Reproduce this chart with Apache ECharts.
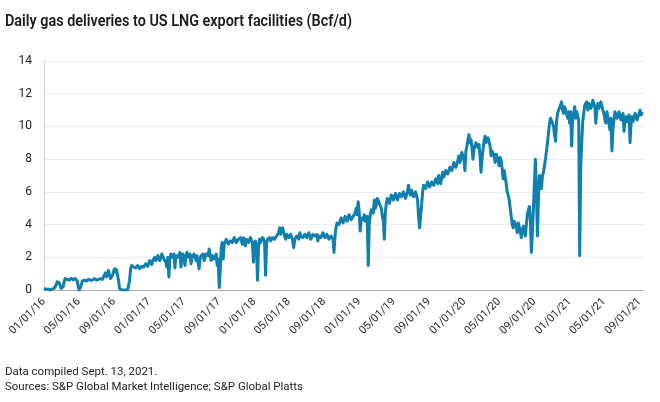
<!DOCTYPE html>
<html>
<head>
<meta charset="utf-8">
<script src="https://cdn.jsdelivr.net/npm/echarts@6/dist/echarts.min.js"></script>
<style>
html,body{margin:0;padding:0;background:#fff;}
#chart{width:660px;height:402px;}
</style>
</head>
<body>
<div id="chart"></div>
<script>
// Readings every 3.5 days (Bcf/d), first reading 2016-01-01
const startDate = '2016-01-01';
const stepDays = 3.5;
const values2016 = [0.1,0.05, 0.05,0.05, 0.05,0.0, 0.0,0.05, 0.05,0.1, 0.1,0.2, 0.3,0.5, 0.55,0.45, 0.4,0.1, 0.0,0.2, 0.5,0.7, 0.75,0.65, 0.7,0.6, 0.65,0.72, 0.7,0.62, 0.6,0.7, 0.65,0.55, 0.2,0.0, 0.0,0.3, 0.55,0.62, 0.6,0.5, 0.55,0.62, 0.65,0.55, 0.6,0.68, 0.6,0.5, 0.7,0.62, 0.6,0.68, 0.65,0.6, 0.7,0.62, 0.65,0.8, 0.9,1.05, 0.8,1.0, 1.2,0.9, 0.7,0.6, 0.9,1.1, 1.3,1.1, 1.25,1.3, 0.6,0.1, 0.0,0.0, 0.0,0.0, 0.0,0.0, 0.0,0.0, 0.1,0.6, 1.3,1.5, 1.5,1.4, 1.45,1.35, 1.4,1.5, 1.45,1.3, 1.3,1.45, 1.55,1.4, 1.5,1.6, 1.6,1.45, 1.65,1.8];
const values2017 = [1.7,1.55, 1.8,1.7, 2.0,1.8, 1.9,2.1, 2.2,1.8, 1.9,2.2, 2.1,1.9, 2.0,1.7, 1.4,2.0, 0.8,1.9, 2.2,2.0, 2.1,2.2, 1.35,2.1, 2.2,2.0, 2.1,2.3, 1.4,2.0, 2.2,1.9, 1.5,2.1, 2.3,2.0, 2.1,2.2, 1.6,2.0, 2.1,2.2, 2.0,1.8, 2.1,2.2, 1.3,1.9, 2.1,2.0, 2.2,1.8, 2.0,2.2, 2.3,2.1, 2.5,2.2, 1.8,2.1, 2.1,1.9, 1.9,2.2, 1.5,1.9, 0.15,1.2, 2.6,2.9, 1.9,2.8, 2.9,3.1, 3.0,2.8, 2.7,3.0, 3.1,2.9, 3.0,3.2, 3.2,2.9, 2.8,3.1, 3.1,3.2, 3.0,2.8, 3.2,3.0, 2.7,3.1, 3.1,2.9, 3.0,3.2, 3.2,2.9, 1.7,2.8];
const values2018 = [3.0,2.7, 0.6,2.5, 3.1,2.9, 3.0,3.2, 3.2,3.0, 0.9,2.8, 3.1,3.2, 3.2,3.0, 3.0,3.2, 3.3,3.1, 3.1,3.3, 3.2,3.5, 3.8,3.4, 3.3,3.8, 3.7,3.3, 3.1,3.4, 3.5,3.2, 3.3,3.4, 3.2,3.0, 2.6,3.1, 3.0,3.3, 3.3,3.1, 3.5,3.3, 3.4,3.2, 3.2,3.4, 3.5,3.2, 3.3,3.5, 3.4,3.1, 3.2,3.4, 3.5,3.3, 3.3,3.4, 3.0,3.3, 3.4,3.2, 3.3,3.5, 3.5,3.2, 3.2,3.4, 3.3,3.1, 3.2,3.3, 3.3,3.1, 2.3,3.3, 3.8,4.1, 4.2,4.0, 4.0,4.4, 4.4,4.1, 4.2,4.5, 4.5,4.2, 4.3,4.6, 4.6,4.3, 4.2,4.5, 4.5,4.7, 5.0,4.6, 5.4,4.8];
const values2019 = [3.6,4.4, 4.5,4.3, 4.6,4.2, 4.3,4.5, 1.5,4.0, 4.6,4.9, 5.0,4.7, 5.5,5.0, 5.2,5.6, 5.7,5.3, 5.3,5.0, 4.5,4.2, 3.1,4.8, 5.3,5.6, 5.6,5.3, 5.4,5.8, 5.8,5.5, 5.5,5.9, 5.8,5.5, 5.6,5.9, 6.0,5.7, 5.7,6.0, 5.9,5.6, 5.6,6.0, 6.4,6.0, 5.8,6.1, 6.0,5.7, 5.7,6.0, 6.0,5.5, 4.5,3.8, 3.7,5.2, 6.0,6.4, 6.5,6.2, 6.3,6.6, 6.6,6.3, 6.2,6.6, 6.7,6.4, 6.4,6.8, 6.8,6.5, 7.0,6.7, 6.5,6.9, 7.2,6.9, 7.0,7.3, 7.4,7.1, 7.2,7.5, 7.6,7.3, 7.4,7.8, 7.8,7.5, 7.5,7.9, 8.2,7.8, 8.0,8.4, 8.4,8.0];
const values2020 = [7.3,8.5, 8.8,9.2, 9.5,9.0, 9.2,8.7, 8.0,8.6, 8.8,9.0, 9.1,8.7, 8.9,8.2, 7.2,8.0, 8.6,9.1, 9.4,9.0, 9.0,9.3, 9.3,8.8, 8.2,8.5, 8.6,8.2, 7.8,8.3, 8.2,7.9, 7.6,8.1, 7.9,7.4, 6.8,7.3, 7.2,6.5, 6.0,5.8, 5.5,5.0, 4.5,4.0, 3.8,4.2, 4.2,3.9, 3.5,4.1, 4.0,3.6, 3.2,3.7, 3.9,3.5, 3.3,4.0, 4.6,4.9, 5.1,4.3, 2.3,3.5, 5.0,6.5, 8.0,6.0, 3.3,5.5, 7.0,6.5, 6.2,7.0, 7.2,7.6, 8.0,8.5, 9.0,9.6, 10.2,10.5, 10.6,10.2, 10.0,9.5, 9.1,10.3, 10.8,11.0, 11.0,11.3, 11.5,11.0, 10.8,11.2, 11.2,10.8, 10.5,10.9];
const values2021 = [10.2,10.9, 8.8,10.5, 10.8,11.2, 10.5,10.9, 11.0,10.4, 2.1,7.5, 9.0,10.3, 10.8,11.3, 11.2,11.5, 11.0,11.4, 11.5,11.1, 11.3,11.6, 11.6,11.2, 10.2,11.0, 11.4,11.1, 11.0,11.5, 11.5,11.0, 10.8,10.4, 10.2,10.9, 10.8,10.2, 9.8,10.5, 8.5,9.8, 10.4,10.9, 10.8,10.5, 10.5,10.9, 10.9,10.4, 10.3,10.8, 9.7,10.4, 10.6,10.3, 10.2,10.7, 9.0,10.2, 10.6,10.3, 10.4,10.8, 10.8,10.4, 10.5,10.8, 11.0,10.7, 10.9];
const tickDates = ['2016-01-01','2016-05-01','2016-09-01','2017-01-01','2017-05-01','2017-09-01','2018-01-01','2018-05-01','2018-09-01','2019-01-01','2019-05-01','2019-09-01','2020-01-01','2020-05-01','2020-09-01','2021-01-01','2021-05-01','2021-09-01'];
const axisEnd = '2021-09-13';
const yTicks = [0,2,4,6,8,10,12,14];
const titleText = 'Daily gas deliveries to US LNG export facilities (Bcf/d)';
const noteLines = ['Data compiled Sept. 13, 2021.', 'Sources: S&P Global Market Intelligence; S&P Global Platts'];

const toTs = s => { const p = s.split('-'); return Date.UTC(+p[0], +p[1]-1, +p[2]); };
const allValues = [].concat(values2016, values2017, values2018, values2019, values2020, values2021);
const t0 = toTs(startDate);
const seriesData = allValues.map((v,i)=>[t0 + i*stepDays*86400000, v]);
const tickTs = tickDates.map(toTs);
const fmt = ts => { const d = new Date(ts); const mm = String(d.getUTCMonth()+1).padStart(2,'0'); const dd = String(d.getUTCDate()).padStart(2,'0'); const yy = String(d.getUTCFullYear()).slice(2); return mm+'/'+dd+'/'+yy; };

// fit text widths to the reference layout
const mctx = document.createElement('canvas').getContext('2d');
function fitScale(text, font, target){ mctx.font = font; const w = mctx.measureText(text).width; return w > 0 ? target / w : 1; }
const titleFont = '600 17px Roboto';
const titleScale = fitScale(titleText, titleFont, 347);
const noteFont = '11px Roboto';
const noteScale = fitScale(noteLines[1], noteFont, 298);

const chart = echarts.init(document.getElementById('chart'), null, {renderer:'canvas'});
chart.setOption({
  animation:false,
  backgroundColor:'#ffffff',
  graphic:[
    {type:'text', x:5, y:22, scaleX:titleScale, style:{text:titleText, font:titleFont, fill:'#1a1a1a', verticalAlign:'middle', align:'left'}},
    {type:'text', x:5, y:372.5, scaleX:noteScale, style:{text:noteLines[0], font:noteFont, fill:'#222', verticalAlign:'middle', align:'left'}},
    {type:'text', x:5, y:387.5, scaleX:noteScale, style:{text:noteLines[1], font:noteFont, fill:'#222', verticalAlign:'middle', align:'left'}}
  ],
  grid:{left:44, right:17, top:61, bottom:112, containLabel:false},
  xAxis:{
    type:'value',
    min:t0, max:toTs(axisEnd),
    axisLine:{show:true, onZero:false, lineStyle:{color:'#aaaaaa', width:1}},
    axisTick:{show:false},
    splitLine:{show:false},
    axisLabel:{
      customValues: tickTs,
      rotate:45, fontFamily:'Roboto', fontSize:11, color:'#2a2a2a', margin:10,
      formatter: v => fmt(v)
    }
  },
  yAxis:{
    type:'value', min:0, max:14, interval:2,
    axisLine:{show:true, lineStyle:{color:'#d6d6d6'}},
    axisTick:{show:false},
    splitLine:{show:true, lineStyle:{color:'#ececec', width:1}},
    axisLabel:{customValues: yTicks, fontFamily:'Roboto', fontSize:12, color:'#222', margin:12}
  },
  series:[{
    type:'line', data:seriesData, showSymbol:false, symbol:'none',
    lineStyle:{color:'#0f7fae', width:3, join:'round'}, itemStyle:{color:'#0f7fae'}
  }]
});
</script>
</body>
</html>
